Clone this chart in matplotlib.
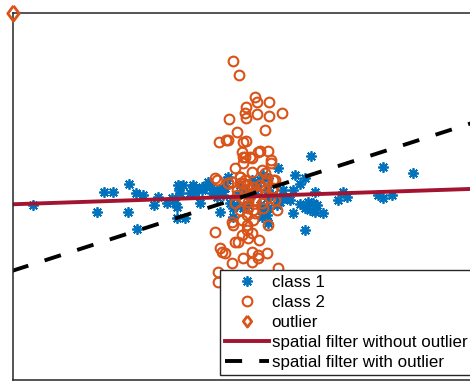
import matplotlib
matplotlib.use("Agg")
import matplotlib.pyplot as plt
import numpy as np

plt.rcParams["font.family"] = ["Liberation Sans", "DejaVu Sans"]

blue = "#0072BD"
orange = "#D95319"
crimson = "#A2142F"

# class 1 points (screen-like coordinates, y grows downward)
x1 = [33, 96.7, 104, 112.7, 129.3, 136, 143.3, 128.3, 136.7, 154.3,
      166.7, 175, 176.7, 171.7, 178.3, 179, 180, 190, 193.3, 195,
      201.7, 200, 176.7, 185, 208.3, 211.7, 215, 220, 223.3, 216.7,
      220, 226.7, 230, 233.3, 311, 278.3, 383.3, 413.3, 295, 305,
      283.3, 293.3, 290, 315, 343.3, 346.7, 338.3, 308.3, 313.3, 316.7,
      305, 310, 315, 323.3, 293.3, 378.3, 383.3, 391.7, 305, 268.3,
      266.7, 280, 261.7, 266.7, 183.3, 193.3, 201.7, 210, 216.7, 221.7,
      195, 228.3, 236.7, 260, 263.3, 268.3, 276.7, 280, 260, 263.3,
      268.3, 233.3, 261.7, 268.3, 240, 245, 250, 255, 238, 248,
      252, 272, 286, 300, 225, 206, 158, 243, 257, 300]
y1 = [205, 211.7, 191.7, 191.7, 184, 193.3, 195, 211.7, 229, 205,
      203.3, 203.3, 206.7, 198.3, 185, 190, 193.3, 193.3, 186.7, 190,
      190, 203.3, 218.3, 218.3, 181.7, 193.3, 191.7, 190, 195, 196.7,
      211.7, 180, 203.3, 208.3, 155.7, 168.3, 166.7, 173.3, 175, 178.3,
      190, 190, 200, 191.7, 191.7, 196.7, 200, 201.7, 203.3, 205,
      208.3, 210, 211.7, 213.3, 213.3, 195, 198.3, 195, 230, 190,
      198.3, 201.7, 213.3, 215, 185, 185, 186.7, 185, 190, 190,
      191.7, 176.7, 205, 205, 210, 208.3, 205, 196.7, 180, 175,
      178.3, 216.7, 216.7, 223.3, 185, 190, 195, 190, 195, 205,
      180, 195, 198, 204, 188, 187, 197, 208, 186, 184]

# class 2 points
x2 = [232.7, 239.3, 255, 257.3, 268.7, 246, 245, 256.7, 269.3, 282,
      229.3, 245.7, 237.3, 264.7, 219, 226, 228.3, 246, 241.7, 260,
      267.7, 243.3, 250, 270.7, 245, 251.7, 270.7, 235, 251.7, 265,
      240, 245, 216.7, 228.3, 231.7, 240, 246.7, 260, 266.7, 236.7,
      250, 265, 273.3, 235, 243.3, 248.3, 255, 261.7, 270, 275,
      248.3, 253.3, 263.3, 276.7, 246.7, 255, 231.7, 233.3, 241.7, 268.3,
      215, 246.7, 251.7, 241.7, 248.3, 235, 220, 221.7, 225, 251.7,
      258.3, 266.7, 243.3, 251.7, 258.3, 278.3, 231.7, 238.3, 243.3, 215,
      228, 240, 243.3, 253.3, 263.3, 271.7, 258.3, 275, 218.3, 218.3,
      243.3, 273.3, 237, 250, 256, 262, 240, 247, 253, 259]
y2 = [61, 75, 96.7, 102.3, 101.7, 106.7, 113.3, 114, 115.7, 113.3,
      118.7, 118.3, 132, 130.3, 142, 140, 140, 140.7, 151.7, 151,
      151.3, 156.7, 156.7, 160, 156.7, 158.3, 163.3, 168.3, 171.7, 173.3,
      176.7, 180, 180, 183.3, 181.7, 183.3, 185, 185, 180, 190,
      190, 190, 188.3, 203.3, 198.3, 201.7, 200, 203.3, 198.3, 200,
      208.3, 210, 208.3, 210, 215, 213.3, 221.7, 225, 220, 225,
      231.7, 230, 233.3, 235, 238.3, 241.7, 248.3, 251.7, 253.3, 251.7,
      255, 253.3, 258.3, 261.7, 258.3, 268.3, 263.3, 241.7, 183.3, 178.3,
      183, 176.7, 141.7, 186.7, 186.7, 190, 151.7, 180, 271.7, 281.7,
      163.3, 180, 195, 196, 192, 170, 210, 225, 220, 240]

# outlier
x_out = [12.7]
y_out = [12.7]

# spatial filters (end points)
x_filt = [12, 472]
y_without = [204.3, 188.9]
y_with = [270.9, 123.0]

diamond = [(0, 1), (0.75, 0), (0, -1), (-0.75, 0), (0, 1)]

fig = plt.figure(figsize=(4.7, 3.81), dpi=100)
x0, x1lim, ytop, ybot = 12.5, 472, 13, 380
ax = fig.add_axes([x0 / 470, 1 - ybot / 381, (x1lim - x0) / 470, (ybot - ytop) / 381])

ax.plot(x1, y1, linestyle="none", marker=(8, 2, 0), markersize=7.5, mew=1.3,
        color=blue, label="class 1")
ax.plot(x2, y2, linestyle="none", marker="o", markersize=7, mew=1.5,
        mfc="none", mec=orange, label="class 2")
ax.plot(x_out, y_out, linestyle="none", marker=diamond, markersize=11, mew=2,
        mfc="none", mec=orange, label="outlier", clip_on=False, zorder=5)
ax.plot(x_filt, y_without, color=crimson, lw=2.8,
        label="spatial filter without outlier")
ax.plot(x_filt, y_with, color="black", lw=2.8, linestyle=(0, (4.4, 4.4)),
        label="spatial filter with outlier")

ax.set_xlim(x0, x1lim)
ax.set_ylim(ybot, ytop)
ax.set_xticks([])
ax.set_yticks([])
for s in ax.spines.values():
    s.set_linewidth(1.1)
    s.set_color("#262626")

leg = ax.legend(loc="lower left", bbox_to_anchor=((220 - x0) / (x1lim - x0), (ybot - 375) / (ybot - ytop)),
                borderaxespad=0, fontsize=12.2, handlelength=2.6, handletextpad=0.15,
                borderpad=0.3, labelspacing=0.3, fancybox=False, framealpha=1,
                edgecolor="#262626", numpoints=1)
leg.get_frame().set_linewidth(1.0)
leg.legend_handles[2].set_markersize(8)

fig.savefig("out.png", dpi=100)
